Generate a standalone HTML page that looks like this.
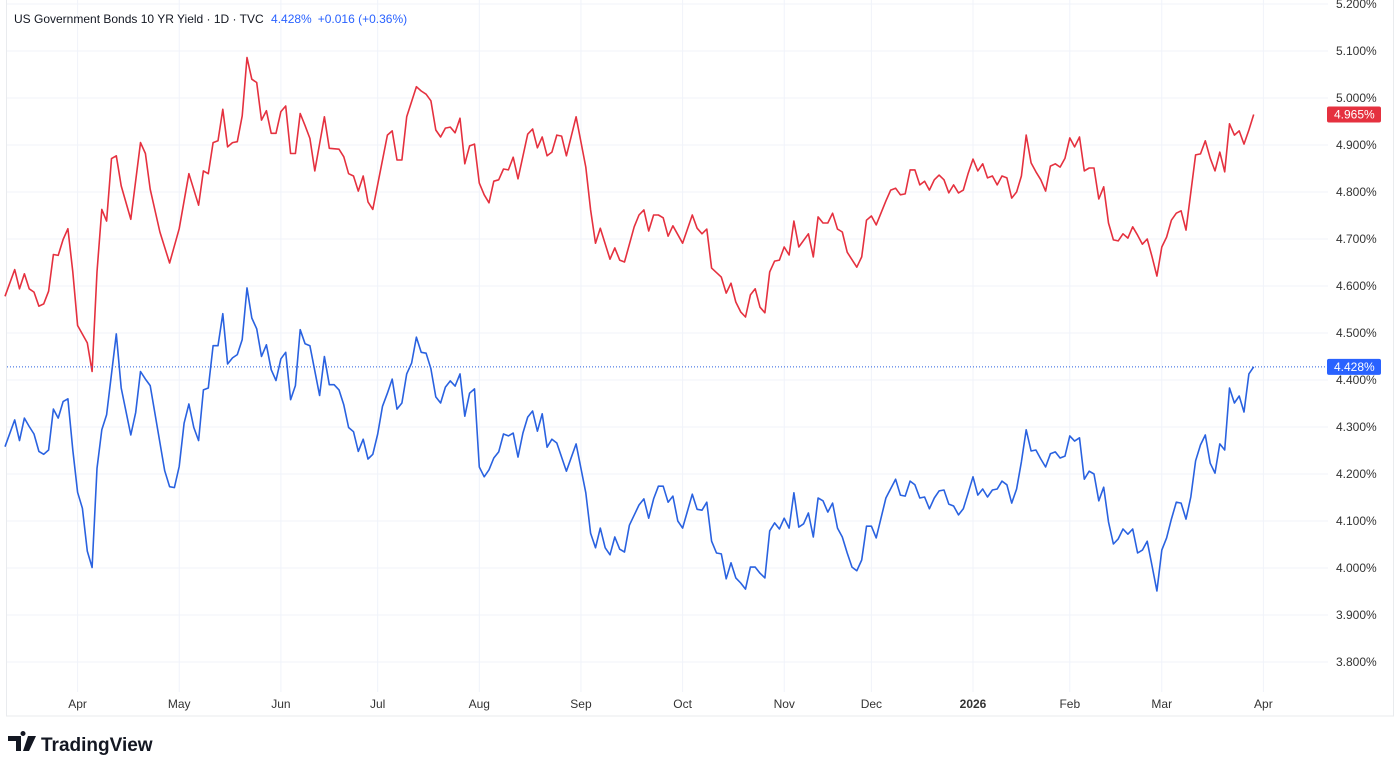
<!DOCTYPE html>
<html><head><meta charset="utf-8"><style>
html,body{margin:0;padding:0;background:#fff;width:1400px;height:761px;overflow:hidden;font-family:"Liberation Sans",sans-serif}
svg text{font-family:"Liberation Sans",sans-serif}
</style></head><body>
<svg id="chart" width="1400" height="761" viewBox="0 0 1400 761" xmlns="http://www.w3.org/2000/svg">
<rect x="6.5" y="-1" width="1387" height="717" fill="none" stroke="#e9ebee" stroke-width="1"/>
<g id="grid"></g>
<g id="series"></g>
<g id="axes"></g>
<text x="14" y="23" font-size="12" fill="#131722">US Government Bonds 10 YR Yield · 1D · TVC <tspan fill="#2962ff" dx="4">4.428%</tspan><tspan fill="#2962ff" dx="6">+0.016 (+0.36%)</tspan></text>
<g>
<path d="M8 736h13v15h-5v-10h-8z M23 736a2.5 2.5 0 1 1 0.01 0z M28 736h8l-7 15h-6z" fill="#131722"/>
<text x="41" y="751" font-size="19" font-weight="bold" fill="#131722">TradingView</text>
</g>
</svg>
<script>
const redDays=[0,2,3,4,5,6,7,8,9,10,11,12,13,14,15,17,18,19,20,21,22,23,24,26,28,29,30,32,34,36,38,40,41,42,43,44,45,46,47,48,49,50,51,52,53,54,55,56,57,58,59,60,61,62,63,64,66,67,69,70,71,72,73,74,75,76,79,80,81,82,83,85,86,87,88,
89,90,91,92,93,94,95,96,97,98,99,100,101,102,103,104,105,106,108,109,110,111,112,113,114,115,116,118,120,121,122,123,125,126,127,128,130,131,132,133,134,135,136,137,138,140,142,143,144,145,146,148,149,150,151,152,153,154,155,156,157,158,159,160,161,162,163,164,166,167,168,169,170,171,172,173,174,176,177,178,179,180,
182,183,184,185,186,187,188,189,190,191,192,193,194,195,196,197,198,199,200,201,202,203,204,205,206,207,208,209,210,211,212,213,214,215,216,217,218,219,220,221,222,223,224,225,226,227,228,229,230,231,232,233,234,235,236,237,238,239,240,241,242,243,244,246,247,248,249,250,251,252,253,254,255,256,257,258];
const redVals=[4.578,4.635,4.594,4.626,4.594,4.587,4.557,4.562,4.589,4.667,4.665,4.699,4.722,4.630,4.516,4.479,4.418,4.630,4.763,4.738,4.871,4.877,4.813,4.742,4.905,4.882,4.806,4.715,4.649,4.722,4.839,4.772,4.845,4.839,4.905,4.909,4.976,4.896,4.905,4.907,4.962,5.086,5.040,5.033,4.953,4.973,4.925,4.925,4.971,4.983,4.882,4.882,4.967,4.941,4.914,4.845,4.960,4.893,4.891,4.875,4.839,4.834,4.802,4.834,4.779,4.763,4.921,4.930,4.868,4.868,4.960,5.024,5.015,5.008,4.994,
4.932,4.917,4.936,4.938,4.926,4.957,4.860,4.898,4.902,4.819,4.794,4.777,4.823,4.826,4.849,4.847,4.874,4.828,4.923,4.934,4.894,4.917,4.877,4.885,4.921,4.919,4.877,4.960,4.853,4.762,4.691,4.723,4.657,4.681,4.655,4.651,4.726,4.751,4.762,4.717,4.751,4.751,4.745,4.706,4.728,4.691,4.751,4.723,4.711,4.721,4.638,4.619,4.585,4.606,4.566,4.545,4.534,4.581,4.594,4.555,4.543,4.630,4.653,4.655,4.683,4.666,4.738,4.683,4.711,4.662,4.747,4.734,4.734,4.755,4.721,4.715,4.672,4.640,4.662,4.740,4.749,4.730,
4.781,4.804,4.808,4.794,4.796,4.847,4.847,4.815,4.823,4.804,4.826,4.836,4.826,4.798,4.815,4.798,4.804,4.840,4.870,4.845,4.860,4.830,4.834,4.815,4.834,4.830,4.787,4.800,4.834,4.921,4.862,4.843,4.826,4.802,4.855,4.860,4.853,4.872,4.915,4.896,4.917,4.845,4.851,4.851,4.785,4.811,4.734,4.698,4.696,4.711,4.702,4.726,4.708,4.689,4.700,4.662,4.621,4.683,4.704,4.740,4.755,4.760,4.719,4.879,4.881,4.909,4.872,4.845,4.885,4.843,4.945,4.921,4.930,4.902,4.932,4.965];
const blueDays=[0,2,3,4,5,6,7,8,9,10,11,12,13,14,15,16,17,18,19,20,21,23,24,26,27,28,29,30,33,34,35,36,37,38,39,40,41,42,43,44,45,46,47,48,49,50,51,52,53,54,55,56,57,58,59,60,61,62,63,65,66,67,68,69,70,71,72,73,74,75,76,77,78,79,80,81,82,83,84,85,86,87,88,
89,90,91,92,93,94,95,96,97,98,99,100,101,102,103,104,105,106,107,108,109,110,111,112,113,114,116,118,120,121,122,123,124,125,126,127,128,129,131,132,133,134,135,136,137,138,139,140,142,143,144,145,146,147,148,149,150,151,152,153,154,155,156,157,158,159,160,161,162,163,164,165,166,167,168,169,170,171,172,173,174,175,176,177,178,179,180,
182,184,185,186,187,188,189,190,191,192,193,194,195,196,197,198,199,200,201,202,203,204,205,206,207,208,209,210,211,212,213,214,215,216,217,218,219,220,221,222,223,224,225,226,227,228,229,230,231,232,233,234,235,236,237,238,239,240,241,242,243,244,245,246,247,248,249,250,251,252,253,254,255,256,257,258];
const blueVals=[4.258,4.315,4.271,4.319,4.301,4.285,4.248,4.242,4.251,4.338,4.319,4.354,4.360,4.251,4.161,4.127,4.036,4.001,4.212,4.294,4.326,4.498,4.383,4.283,4.331,4.418,4.402,4.388,4.207,4.173,4.171,4.216,4.308,4.349,4.299,4.271,4.379,4.383,4.473,4.473,4.541,4.434,4.447,4.454,4.486,4.596,4.532,4.509,4.450,4.475,4.422,4.399,4.445,4.459,4.358,4.388,4.507,4.477,4.473,4.367,4.450,4.390,4.390,4.379,4.347,4.299,4.290,4.248,4.274,4.232,4.242,4.285,4.344,4.372,4.402,4.338,4.351,4.413,4.436,4.491,4.459,4.457,4.424,
4.364,4.351,4.385,4.398,4.387,4.413,4.323,4.372,4.381,4.215,4.194,4.209,4.234,4.247,4.285,4.281,4.287,4.236,4.287,4.321,4.334,4.291,4.328,4.257,4.274,4.266,4.206,4.264,4.160,4.074,4.043,4.085,4.043,4.028,4.066,4.040,4.034,4.091,4.134,4.147,4.106,4.147,4.174,4.174,4.140,4.153,4.100,4.085,4.157,4.125,4.123,4.140,4.057,4.032,4.030,3.977,4.011,3.979,3.968,3.955,4.002,4.002,3.989,3.979,4.079,4.096,4.083,4.106,4.085,4.160,4.087,4.094,4.117,4.066,4.149,4.143,4.119,4.138,4.085,4.066,4.032,4.002,3.994,4.017,4.089,4.089,4.064,
4.149,4.189,4.155,4.153,4.185,4.177,4.149,4.151,4.126,4.149,4.164,4.166,4.136,4.132,4.113,4.126,4.160,4.194,4.155,4.168,4.151,4.166,4.168,4.185,4.177,4.138,4.168,4.226,4.294,4.249,4.251,4.232,4.215,4.243,4.247,4.234,4.238,4.281,4.270,4.277,4.189,4.206,4.200,4.143,4.172,4.098,4.051,4.062,4.083,4.072,4.083,4.032,4.038,4.057,4.004,3.951,4.038,4.064,4.104,4.140,4.138,4.104,4.151,4.228,4.262,4.283,4.223,4.202,4.264,4.251,4.383,4.351,4.366,4.332,4.413,4.428];
const monthLabels=["Apr","May","Jun","Jul","Aug","Sep","Oct","Nov","Dec","2026","Feb","Mar","Apr"];
const monthDays=[15,36,57,77,98,119,140,161,179,200,220,239,260];
const yTicks=[3.8,3.9,4.0,4.1,4.2,4.3,4.4,4.5,4.6,4.7,4.8,4.9,5.0,5.1,5.2];

const NS="http://www.w3.org/2000/svg";
const X0=5,DX=4.84,Y0=568,YS=470;
const xScale=d=>X0+d*DX;
const yScale=v=>Y0-(v-4.0)*YS;
function mk(tag,attrs,parent){const e=document.createElementNS(NS,tag);for(const k in attrs)e.setAttribute(k,attrs[k]);parent.appendChild(e);return e;}
const grid=document.getElementById('grid'),axes=document.getElementById('axes'),series=document.getElementById('series');
yTicks.forEach(v=>{
  const y=yScale(v);
  const l=mk('line',{x1:7,x2:1328,y1:y,y2:y,stroke:'#f0f3fa','stroke-width':1},grid);
  
  
  const t=mk('text',{x:1336,y:y+4,'font-size':12,fill:'#333'},axes);
  
  
  t.textContent=v.toFixed(3)+'%';
});
monthLabels.forEach((m,i)=>{
  const x=xScale(monthDays[i]);
  const l=mk('line',{x1:x,x2:x,y1:0,y2:692,stroke:'#f0f3fa','stroke-width':1},grid);
  
  
  const t=mk('text',{x:x,y:708,'font-size':12,fill:'#333','text-anchor':'middle','font-weight':m==='2026'?'bold':'normal'},axes);
  
  
  t.textContent=m;
});
function line(days,vals,color,name){
  const d=days.map((dd,i)=>(i?'L':'M')+xScale(dd).toFixed(1)+' '+yScale(vals[i]).toFixed(1)).join('');
  const p=mk('path',{d:d,fill:'none',stroke:color,'stroke-width':1.6,'stroke-linejoin':'round'},series);
  
  
}
line(redDays,redVals,'#e5313f','us30y-line');
line(blueDays,blueVals,'#2a62e0','us10y-line');
// last price line + badges
const lb=blueVals[blueVals.length-1],lr=redVals[redVals.length-1];
const dl=mk('line',{x1:7,x2:1328,y1:yScale(lb),y2:yScale(lb),stroke:'#2a62e0','stroke-width':1,'stroke-dasharray':'1 2'},series);


[[lr,'#e5313f','red-price-badge'],[lb,'#2962ff','blue-price-badge']].forEach(([v,c,n])=>{
  const y=yScale(v);
  const g=mk('g',{},axes);
  
  
  mk('rect',{x:1327,y:y-8,width:54,height:16,rx:2,fill:c},g);
  const t=mk('text',{x:1334,y:y+4,'font-size':12,fill:'#fff'},g);
  t.textContent=v.toFixed(3)+'%';
});
</script>
</body></html>
